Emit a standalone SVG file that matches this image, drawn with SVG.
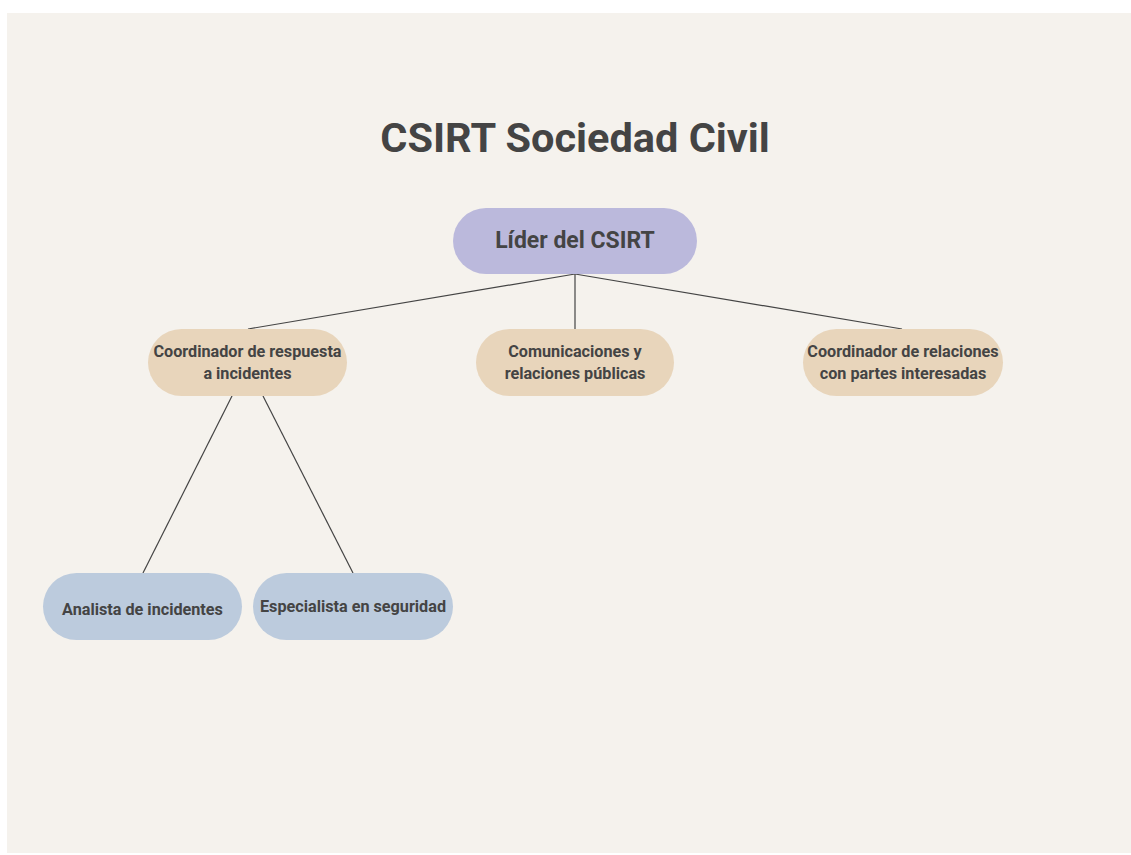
<svg xmlns="http://www.w3.org/2000/svg" width="1131" height="855" viewBox="0 0 1131 855">
<style>
.t{font-family:Roboto,"Liberation Sans",sans-serif;font-weight:bold;fill:#444444;text-anchor:middle}
.n{font-size:16.2px}
.c{stroke:#444444;stroke-width:1.2;fill:none}
</style>
<rect x="0" y="0" width="1131" height="855" fill="#ffffff"/>
<rect x="7" y="13" width="1124" height="840" fill="#f5f2ed"/>
<text class="t" x="575" y="152" font-size="41.5">CSIRT Sociedad Civil</text>
<g id="connectors">
<line class="c" x1="575" y1="274" x2="248" y2="329"/>
<line class="c" x1="575" y1="274" x2="575" y2="329" stroke="#666666"/>
<line class="c" x1="575" y1="274" x2="902" y2="329"/>
<line class="c" x1="232" y1="396" x2="143" y2="573"/>
<line class="c" x1="263" y1="396" x2="353" y2="573"/>
</g>
<g id="lider">
<rect x="453" y="208" width="244" height="66" rx="33" fill="#bbb9dc"/>
<text class="t" x="575" y="248" font-size="23">Líder del CSIRT</text>
</g>
<g id="coord-respuesta">
<rect x="148" y="329" width="199" height="67" rx="33.5" fill="#e8d5bb"/>
<text class="t n" x="247.5" y="357">Coordinador de respuesta</text>
<text class="t n" x="247.5" y="379">a incidentes</text>
</g>
<g id="comunicaciones">
<rect x="476" y="329" width="198" height="67" rx="33.5" fill="#e8d5bb"/>
<text class="t n" x="575" y="357">Comunicaciones y</text>
<text class="t n" x="575" y="379">relaciones públicas</text>
</g>
<g id="coord-relaciones">
<rect x="803" y="329" width="200" height="67" rx="33.5" fill="#e8d5bb"/>
<text class="t n" x="903" y="357">Coordinador de relaciones</text>
<text class="t n" x="903" y="379">con partes interesadas</text>
</g>
<g id="analista">
<rect x="43" y="573" width="199" height="67" rx="33.5" fill="#bccbdd"/>
<text class="t n" x="142.5" y="615">Analista de incidentes</text>
</g>
<g id="especialista">
<rect x="253" y="573" width="200" height="67" rx="33.5" fill="#bccbdd"/>
<text class="t n" x="353" y="612">Especialista en seguridad</text>
</g>
</svg>
